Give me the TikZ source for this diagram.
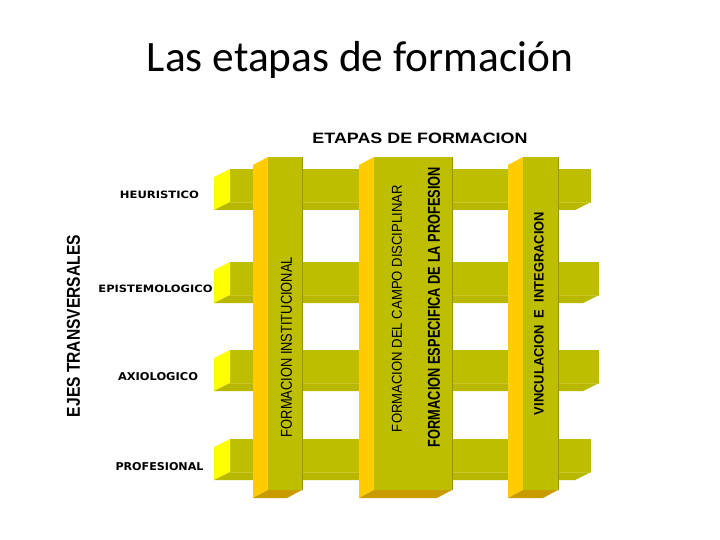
\documentclass[tikz,border=0pt]{standalone}
\usepackage{fontspec}
\usepackage{graphicx}
\setmainfont{Liberation Sans}
\newfontfamily\titlefont{Carlito}
\newfontfamily\heavyfont{DejaVu Sans}
\definecolor{olivefront}{RGB}{190,190,0}
\definecolor{olivebottom}{RGB}{184,184,0}
\definecolor{oliveline}{RGB}{200,200,40}
\definecolor{oliveedge}{RGB}{150,150,0}
\definecolor{barend}{RGB}{255,255,0}
\definecolor{colside}{RGB}{255,204,0}
\definecolor{colbottom}{RGB}{200,155,0}
\newcommand{\fitbox}[3]{\resizebox{#1pt}{#2pt}{#3}}
\newcommand{\drawbar}[2]{% top y, right x
  \fill[olivefront] (230,#1) rectangle (#2,#1+33);
  \fill[barend] (230,#1) -- (230,#1+33) -- (214,#1+41) -- (214,#1+8) -- cycle;
  \fill[olivebottom] (230,#1+33) -- (#2,#1+33) -- (#2-16,#1+41) -- (214,#1+41) -- cycle;
  \draw[oliveline, line width=0.5pt] (230,#1+33) -- (#2,#1+33);
}
\newcommand{\drawcol}[2]{% left x, right x
  \fill[colside] (#1,157) -- (#1-15,165) -- (#1-15,498) -- (#1,490) -- cycle;
  \fill[olivefront] (#1,157) rectangle (#2,490);
  \fill[colbottom] (#1,490) -- (#2,490) -- (#2-15,498) -- (#1-15,498) -- cycle;
  \draw[oliveedge, line width=0.5pt] (#2,157) -- (#2,490);
}
\begin{document}
\begin{tikzpicture}[x=1pt,y=-1pt,
  lbl/.style={inner sep=0pt, outer sep=0pt, anchor=center, text=black},
  vlbl/.style={lbl, rotate=90}]
\useasboundingbox (0,0) rectangle (720,540);
\fill[white] (0,0) rectangle (720,540);

\node[inner sep=0pt, anchor=base] (title) at (360,72)
  {\resizebox{426pt}{!}{\titlefont\fontsize{39}{42}\selectfont Las etapas de formación}};

% horizontal bars
\drawbar{169}{591}
\drawbar{262}{599}
\drawbar{350}{599}
\drawbar{439}{591}

% vertical columns
\drawcol{268}{302}
\drawcol{374}{452}
\drawcol{523}{558}

% labels
\node[lbl] (etapas) at (420,138) {\fitbox{215}{10.5}{\bfseries ETAPAS DE FORMACION}};
\node[vlbl] (ejes) at (73.5,326) {\fitbox{182}{13}{\bfseries EJES TRANSVERSALES}};
\node[lbl] (heur) at (159.5,195) {\fitbox{79}{7.5}{\heavyfont\bfseries HEURISTICO}};
\node[lbl] (epis) at (155.5,288.5) {\fitbox{114}{7.5}{\heavyfont\bfseries EPISTEMOLOGICO}};
\node[lbl] (axio) at (158,377) {\fitbox{80}{8}{\heavyfont\bfseries AXIOLOGICO}};
\node[lbl] (prof) at (159.5,467) {\fitbox{88}{8}{\heavyfont\bfseries PROFESIONAL}};

\node[vlbl] (finst) at (286.5,347) {\fitbox{180}{11}{FORMACION INSTITUCIONAL}};
\node[vlbl] (fcamp) at (397,308.5) {\fitbox{247}{10}{FORMACION DEL CAMPO DISCIPLINAR}};
\node[vlbl] (fesp) at (434,307) {\fitbox{280}{12}{\bfseries FORMACION ESPECIFICA DE LA PROFESION}};
\node[vlbl] (vinc) at (539,313.5) {\fitbox{203}{9.5}{\bfseries VINCULACION~~E~~INTEGRACION}};
\end{tikzpicture}
\end{document}
